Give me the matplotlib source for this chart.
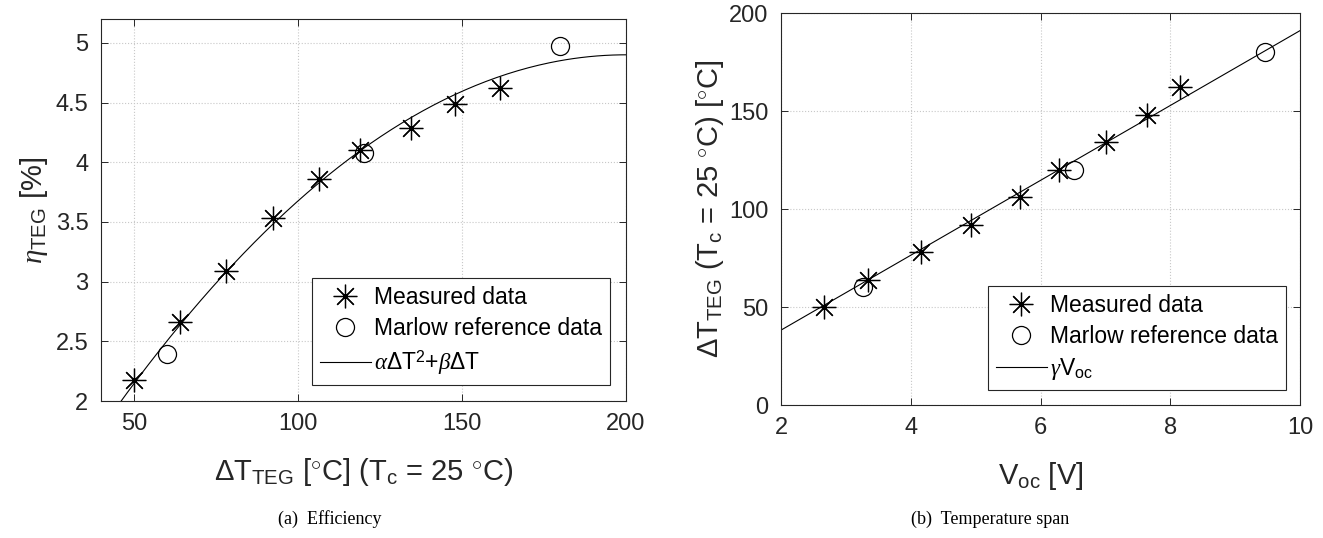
"""
Thermoelectric generator characterisation: efficiency versus temperature
span, and temperature span versus open-circuit voltage.
"""

import numpy as np
import matplotlib
matplotlib.use("Agg")
import matplotlib.pyplot as plt

plt.rcParams["font.family"] = ["Liberation Sans", "DejaVu Sans"]
plt.rcParams["mathtext.fontset"] = "custom"
plt.rcParams["mathtext.rm"] = "Liberation Sans"
plt.rcParams["mathtext.it"] = "Liberation Serif:italic"
plt.rcParams["mathtext.bf"] = "Liberation Sans:bold"

# (a) efficiency vs temperature span
dT_meas = [50, 64, 78, 92.5, 106.5, 119, 134.5, 148, 161.5]
eta_meas = [2.18, 2.66, 3.09, 3.53, 3.86, 4.10, 4.29, 4.49, 4.62]
dT_ref = [60, 120, 180]
eta_ref = [2.39, 4.08, 4.97]
alpha = -1.225e-4   # fit coefficients, eta = alpha*dT^2 + beta*dT
beta = 0.049

# (b) temperature span vs open-circuit voltage
voc_meas = [2.67, 3.34, 4.16, 4.93, 5.69, 6.28, 7.01, 7.64, 8.15]
dTs_meas = [50, 64, 78, 92, 106, 120, 134, 148, 162]
voc_ref = [3.27, 6.51, 9.46]
dTs_ref = [60, 120, 180]
gamma = 19.1        # fit coefficient, dT = gamma*Voc

W, H = 1323, 538
STAR = (8, 2, 0)
TXT = "#262626"
DEG = r"$^{\circ}$"


def style_axes(ax):
    ax.grid(True, linestyle=":", color="#c8c8c8", linewidth=0.8)
    ax.set_axisbelow(True)
    ax.tick_params(direction="in", length=5, width=0.7, top=True, right=True,
                   labelsize=17, colors=TXT, pad=9)
    for sp in ax.spines.values():
        sp.set_color(TXT)
        sp.set_linewidth(0.8)


def add_legend(ax, anchor):
    leg = ax.legend(loc="lower right", bbox_to_anchor=anchor, borderaxespad=0,
                    fontsize=16.5, fancybox=False, framealpha=1, edgecolor="#262626",
                    handlelength=2.2, handletextpad=0.15, labelspacing=0.35,
                    borderpad=0.35)
    leg.get_frame().set_linewidth(0.8)


fig = plt.figure(figsize=(W / 100, H / 100), dpi=100)
ax1 = fig.add_axes([101 / W, 1 - 401 / H, 525 / W, 382 / H])
ax2 = fig.add_axes([781 / W, 1 - 405 / H, 519 / W, 392 / H])

# efficiency
ax1.plot(dT_meas, eta_meas, linestyle="none", marker=STAR, markersize=17,
         markeredgewidth=0.9, color="black", label="Measured data")
ax1.plot(dT_ref, eta_ref, linestyle="none", marker="o", markersize=13,
         markerfacecolor="none", markeredgewidth=0.9, color="black",
         label="Marlow reference data")
xfit = np.linspace(40, 200, 200)
ax1.plot(xfit, alpha * xfit ** 2 + beta * xfit, color="black", linewidth=0.8,
         label=r"$\alpha\Delta$T$^2$+$\beta\Delta$T")
ax1.set_xlim(40, 200)
ax1.set_ylim(2, 5.2)
ax1.set_xticks([50, 100, 150, 200])
ax1.set_yticks([2, 2.5, 3, 3.5, 4, 4.5, 5])
ax1.set_yticklabels(["2", "2.5", "3", "3.5", "4", "4.5", "5"])
ax1.set_xlabel(r"$\Delta$T$_{\rm TEG}$ [" + DEG + r"C] (T$_{\rm c}$ = 25 " + DEG + "C)",
               fontsize=21, color=TXT, labelpad=15)
ax1.set_ylabel(r"$\eta_{\rm TEG}$ [%]", fontsize=21, color=TXT, labelpad=4)
style_axes(ax1)
add_legend(ax1, (0.9695, 0.042))

# temperature span
ax2.plot(voc_meas, dTs_meas, linestyle="none", marker=STAR, markersize=17,
         markeredgewidth=0.9, color="black", label="Measured data")
ax2.plot(voc_ref, dTs_ref, linestyle="none", marker="o", markersize=13,
         markerfacecolor="none", markeredgewidth=0.9, color="black",
         label="Marlow reference data")
vfit = np.linspace(2, 10, 50)
ax2.plot(vfit, gamma * vfit, color="black", linewidth=0.8,
         label=r"$\gamma$V$_{\rm oc}$")
ax2.set_xlim(2, 10)
ax2.set_ylim(0, 200)
ax2.set_xticks([2, 4, 6, 8, 10])
ax2.set_yticks([0, 50, 100, 150, 200])
ax2.set_xlabel(r"V$_{\rm oc}$ [V]", fontsize=21, color=TXT, labelpad=15)
ax2.set_ylabel(r"$\Delta$T$_{\rm TEG}$ (T$_{\rm c}$ = 25 " + DEG + "C) [" + DEG + "C]",
               fontsize=21, color=TXT, labelpad=2)
style_axes(ax2)
add_legend(ax2, (0.973, 0.038))

fig.text(330 / W, 1 - 519 / H, "(a)  Efficiency", family="Liberation Serif",
         fontsize=13, ha="center", va="center")
fig.text(990 / W, 1 - 519 / H, "(b)  Temperature span", family="Liberation Serif",
         fontsize=13, ha="center", va="center")

fig.savefig("out.png", dpi=100)
